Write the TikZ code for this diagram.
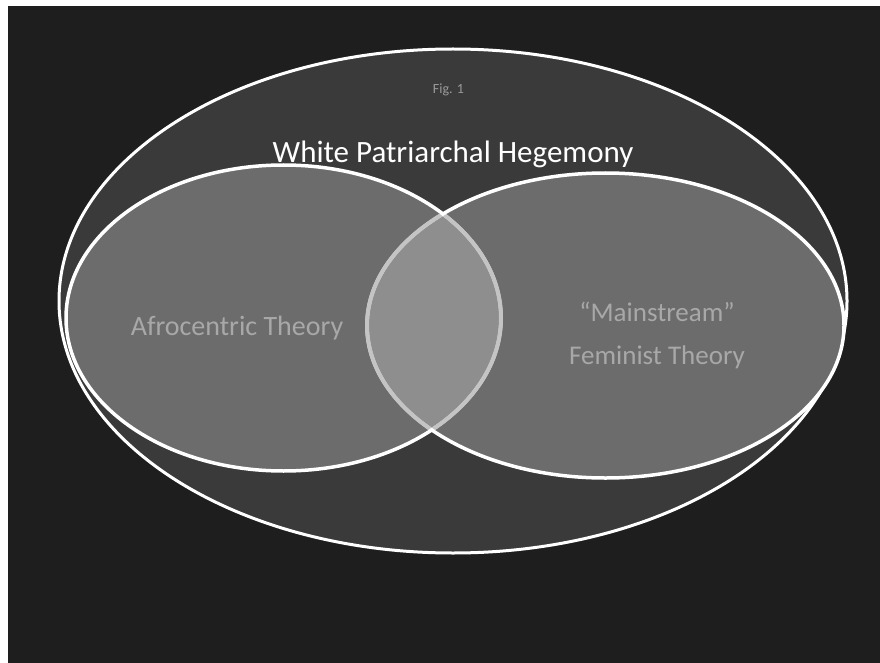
\documentclass[tikz,border=0pt]{standalone}
\usepackage{fontspec}
\setmainfont{Carlito}
\usetikzlibrary{shapes.geometric}
\definecolor{bgdark}{HTML}{1E1E1E}
\definecolor{bigfill}{HTML}{3A3A3A}
\definecolor{setfill}{HTML}{6C6C6C}
\definecolor{lensfill}{HTML}{8E8E8E}
\definecolor{innerline}{HTML}{C4C4C4}
\definecolor{labelgray}{HTML}{A8A8A8}
\definecolor{figgray}{HTML}{9A9A9A}
\tikzset{
  setshape/.style={ellipse, inner sep=0pt, outer sep=0pt},
  setlabel/.style={font=\fontsize{27}{43}\selectfont, text=labelgray, align=center, inner sep=0pt},
}
\begin{document}
\begin{tikzpicture}[x=1pt, y=-1pt]
\useasboundingbox (0,0) rectangle (880,663);
\fill[white] (0,0) rectangle (880,663);
\fill[bgdark] (8,6) rectangle (880,663);
% outer set
\node[setshape, fill=bigfill, draw=white, line width=3pt, minimum width=788pt, minimum height=504pt] (hegemony) at (453,301) {};
% two sets
\node[setshape, fill=setfill, minimum width=435pt, minimum height=306pt] (afro) at (283.5,318) {};
\node[setshape, fill=setfill, minimum width=477pt, minimum height=305pt] (fem) at (605.5,325.5) {};
% lens
\begin{scope}
  \clip (283.5,318) ellipse [x radius=217.5pt, y radius=153pt];
  \fill[lensfill] (605.5,325.5) ellipse [x radius=238.5pt, y radius=152.5pt];
\end{scope}
% outlines
\draw[white, line width=3.5pt] (283.5,318) ellipse [x radius=217.5pt, y radius=153pt];
\draw[white, line width=3.5pt] (605.5,325.5) ellipse [x radius=238.5pt, y radius=152.5pt];
% dimmed inner arcs
\begin{scope}
  \clip (283.5,318) ellipse [x radius=215.5pt, y radius=151pt];
  \draw[innerline, line width=4pt] (605.5,325.5) ellipse [x radius=238.5pt, y radius=152.5pt];
\end{scope}
\begin{scope}
  \clip (605.5,325.5) ellipse [x radius=236.5pt, y radius=150.5pt];
  \draw[innerline, line width=4pt] (283.5,318) ellipse [x radius=217.5pt, y radius=153pt];
\end{scope}
% texts
\node[text=figgray, font=\fontsize{14}{16}\selectfont, inner sep=0pt] (fig) at (448.5,90) {Fig. 1};
\node[text=white, font=\fontsize{31}{34}\selectfont, inner sep=0pt] (title) at (453,154) {White Patriarchal Hegemony};
\node[setlabel, font=\fontsize{28}{43}\selectfont] (afrolabel) at (237,328) {Afrocentric Theory};
\node[setlabel] (femlabel) at (657,335) {“Mainstream”\\Feminist Theory};
\end{tikzpicture}
\end{document}
